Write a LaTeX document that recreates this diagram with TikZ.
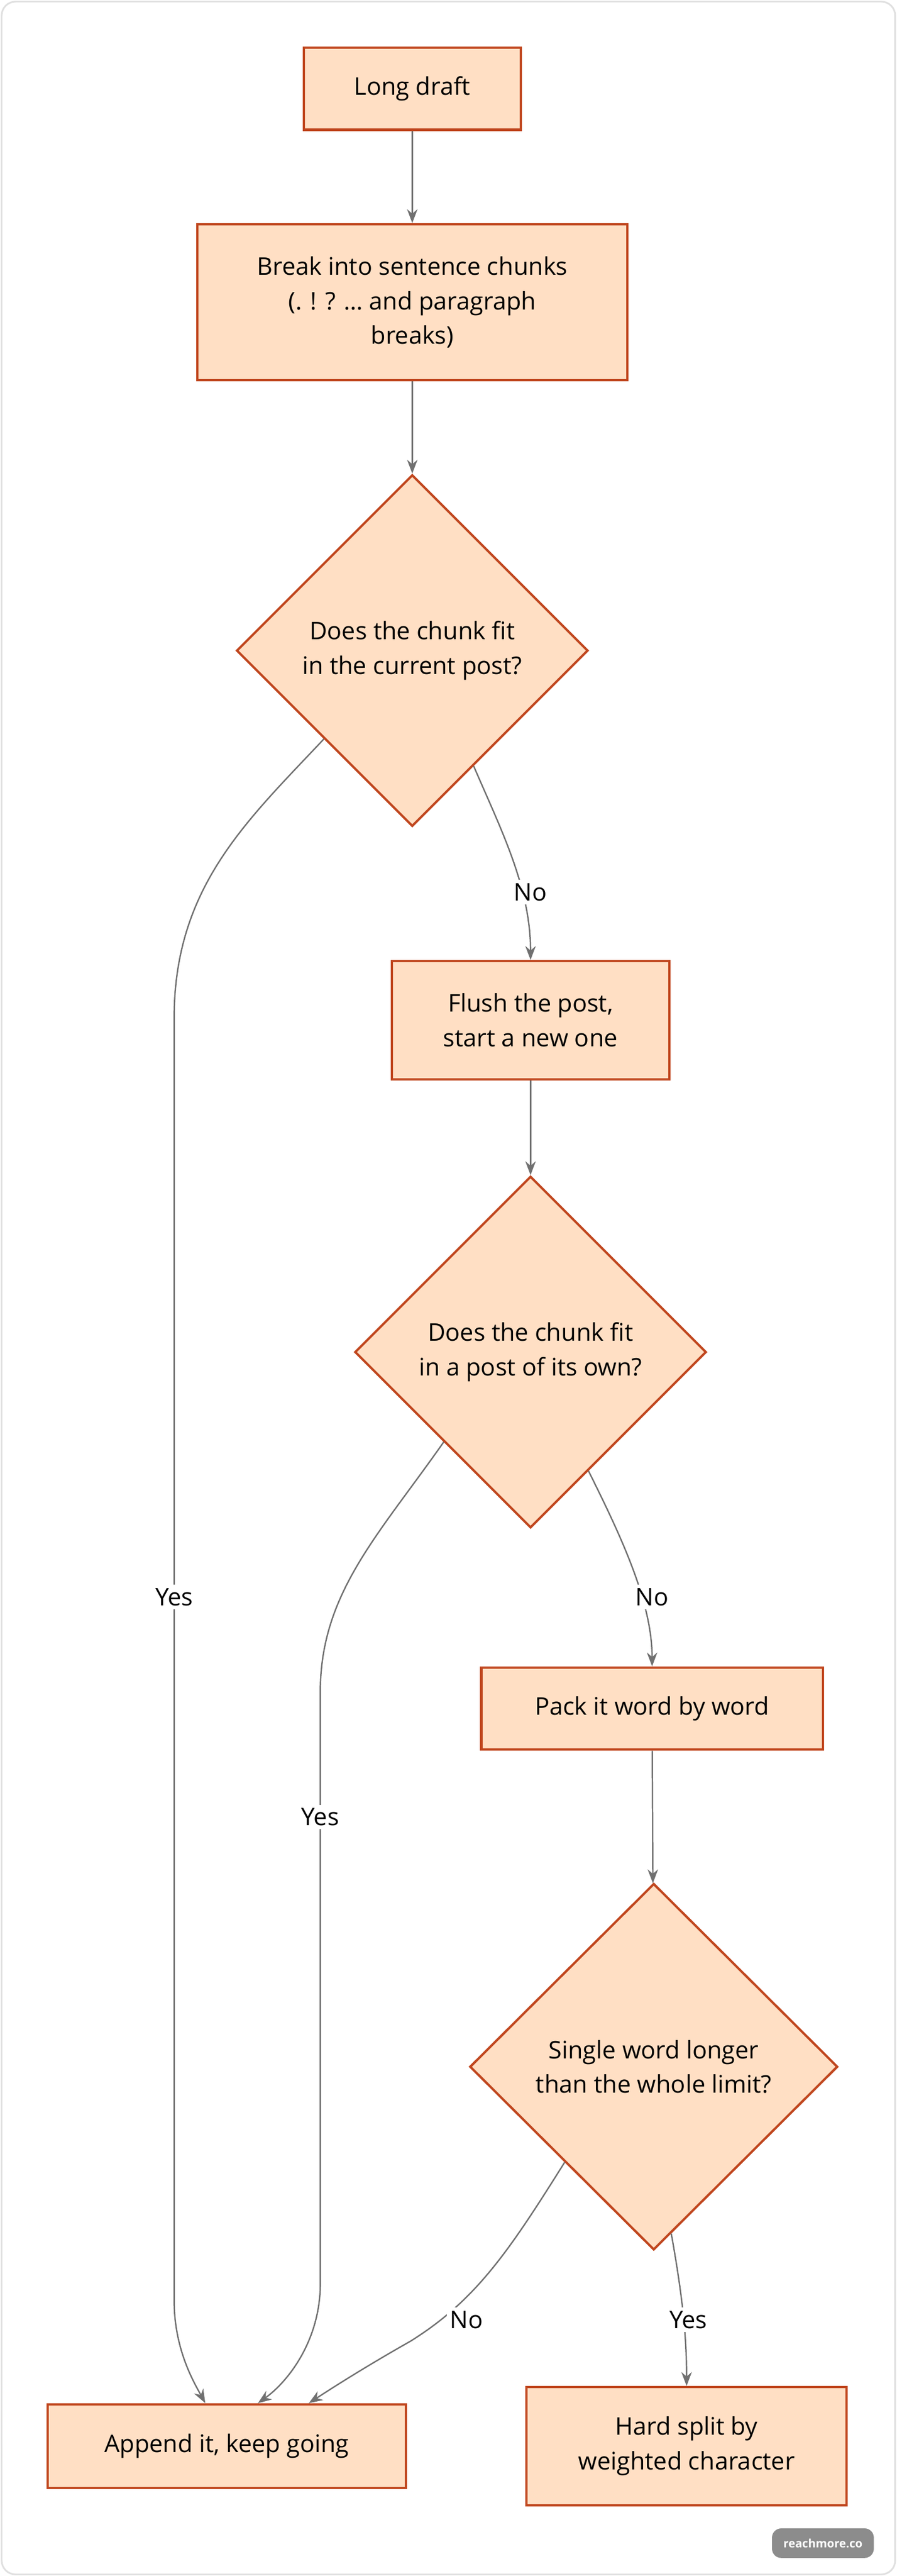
\documentclass[tikz,border=0pt]{standalone}
\usepackage{fontspec}
\setmainfont{Open Sans}
\usepackage{xcolor}
\usetikzlibrary{shapes.geometric, arrows.meta, positioning}
\definecolor{boxfill}{HTML}{FFDFC4}
\definecolor{boxline}{HTML}{C0461E}
\definecolor{edgegray}{HTML}{707070}
\begin{document}
\begin{tikzpicture}[
    x=0.05cm, y=-0.05cm,
    font=\fontsize{21}{30}\selectfont,
    box/.style={rectangle, draw=boxline, fill=boxfill, line width=2pt, align=center, inner sep=0pt},
    choice/.style={diamond, draw=boxline, fill=boxfill, line width=2pt, align=center, inner sep=0pt, minimum width=10.7cm, minimum height=10.7cm},
    arrow/.style={-{Stealth[length=12pt, width=9pt]}, edgegray, line width=1.2pt},
    tag/.style={fill=white, inner sep=3pt}
]
\useasboundingbox (0,0) rectangle (546,1568);
\draw[black!12, line width=1.5pt, rounded corners=12pt] (1,1) rectangle (545,1567);

\node[box, minimum width=6.6cm, minimum height=2.5cm] (draft) at (251,54) {Long draft};
\node[box, minimum width=13.1cm, minimum height=4.75cm] (chunks) at (251,184) {Break into sentence chunks\\(. ! ? … and paragraph\\breaks)};
\node[choice] (fits) at (251,396) {Does the chunk fit\\in the current post?};
\node[box, minimum width=8.45cm, minimum height=3.6cm] (flush) at (323,621) {Flush the post,\\start a new one};
\node[choice] (alone) at (323,823) {Does the chunk fit\\in a post of its own?};
\node[box, minimum width=10.4cm, minimum height=2.5cm] (pack) at (397,1040) {Pack it word by word};
\node[choice, minimum width=11.2cm, minimum height=11.15cm] (longword) at (398,1258) {Single word longer\\than the whole limit?};
\node[box, minimum width=10.9cm, minimum height=2.55cm] (append) at (138,1489) {Append it, keep going};
\node[box, minimum width=9.75cm, minimum height=3.6cm] (hardsplit) at (418,1489) {Hard split by\\weighted character};

\draw[arrow] (draft) -- (chunks);
\draw[arrow] (chunks) -- (fits);
\draw[arrow] (fits.225) .. controls (150,500) and (106,540) .. (106,620) -- (106,1400) .. controls (106,1430) and (118,1450) .. ([xshift=-0.65cm]append.north);
\draw[arrow] (fits.-62) .. controls (305,505) and (323,540) .. (flush.north);
\draw[arrow] (flush) -- (alone);
\draw[arrow] (alone.226) .. controls (230,935) and (195,970) .. (195,1030) -- (195,1390) .. controls (195,1425) and (175,1450) .. ([xshift=0.95cm]append.north);
\draw[arrow] (alone.-64) .. controls (378,935) and (397,975) .. (pack.north);
\draw[arrow] (pack) -- (longword);
\draw[arrow] (longword.227) .. controls (310,1370) and (290,1400) .. (250,1425) .. controls (220,1442) and (200,1455) .. ([xshift=2.5cm]append.north);
\draw[arrow] (longword.-84) .. controls (415,1395) and (418,1420) .. (hardsplit.north);

\node[tag] (yes1) at (106,972) {Yes};
\node[tag] (no1) at (323,543) {No};
\node[tag] (yes2) at (195,1106) {Yes};
\node[tag] (no2) at (397,972) {No};
\node[tag] (no3) at (284,1412) {No};
\node[tag] (yes3) at (419,1412) {Yes};

\node[fill=black!45, text=white, rounded corners=8pt, font=\fontsize{10}{12}\selectfont\bfseries, minimum width=3.1cm, minimum height=0.9cm] (mark) at (501,1548) {reachmore.co};
\end{tikzpicture}
\end{document}
